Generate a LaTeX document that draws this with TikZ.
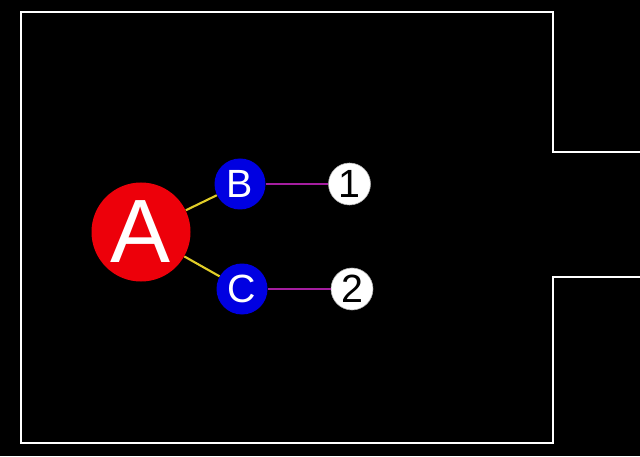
\documentclass[tikz,border=0pt]{standalone}
\usepackage{fontspec}
\setmainfont{Liberation Sans}
\usepackage{tikz}
\usetikzlibrary{positioning,backgrounds}
\definecolor{nodered}{RGB}{237,0,10}
\definecolor{nodeblue}{RGB}{0,0,225}
\definecolor{linkyellow}{RGB}{225,205,40}
\definecolor{linkpurple}{RGB}{165,30,160}

\begin{document}
\begin{tikzpicture}[>=latex,
    bignode/.style = {shape=circle, fill=nodered, text=white, inner sep=0pt,
        minimum size=2.475cm, font=\fontsize{64}{64}\selectfont},
    midnode/.style = {shape=circle, fill=nodeblue, text=white, inner sep=0pt,
        minimum size=1.275cm, font=\fontsize{28}{28}\selectfont},
    endnode/.style = {shape=circle, fill=white, draw=gray!60, thin, text=black, inner sep=0pt,
        minimum size=1.05cm, font=\fontsize{28}{28}\selectfont},
    wall/.style = {draw=white, line width=1.4pt},
    link/.style = {line width=1.5pt},
    ]
% background and frame
\fill[black] (0,0) rectangle (16,11.4);
\useasboundingbox (0,0) rectangle (16,11.4);
\draw[wall] (16,7.6) -- (13.825,7.6) -- (13.825,11.1) -- (0.525,11.1) -- (0.525,0.325) -- (13.825,0.325) -- (13.825,4.475) -- (16,4.475);
% nodes
\node[bignode] (nodeA) at (3.525,5.6) {A};
\node[midnode] (nodeB) at (6.0,6.8) {B};
\node[midnode] (nodeC) at (6.05,4.175) {C};
\node[endnode] (node1) at (8.7375,6.8) {1};
\node[endnode] (node2) at (8.8,4.175) {2};
% links
\draw[link, linkyellow] (nodeA) -- (nodeB);
\draw[link, linkyellow] (nodeA) -- (nodeC);
\draw[link, linkpurple] (nodeB) -- (node1);
\draw[link, linkpurple] (nodeC) -- (node2);
\end{tikzpicture}
\end{document}
